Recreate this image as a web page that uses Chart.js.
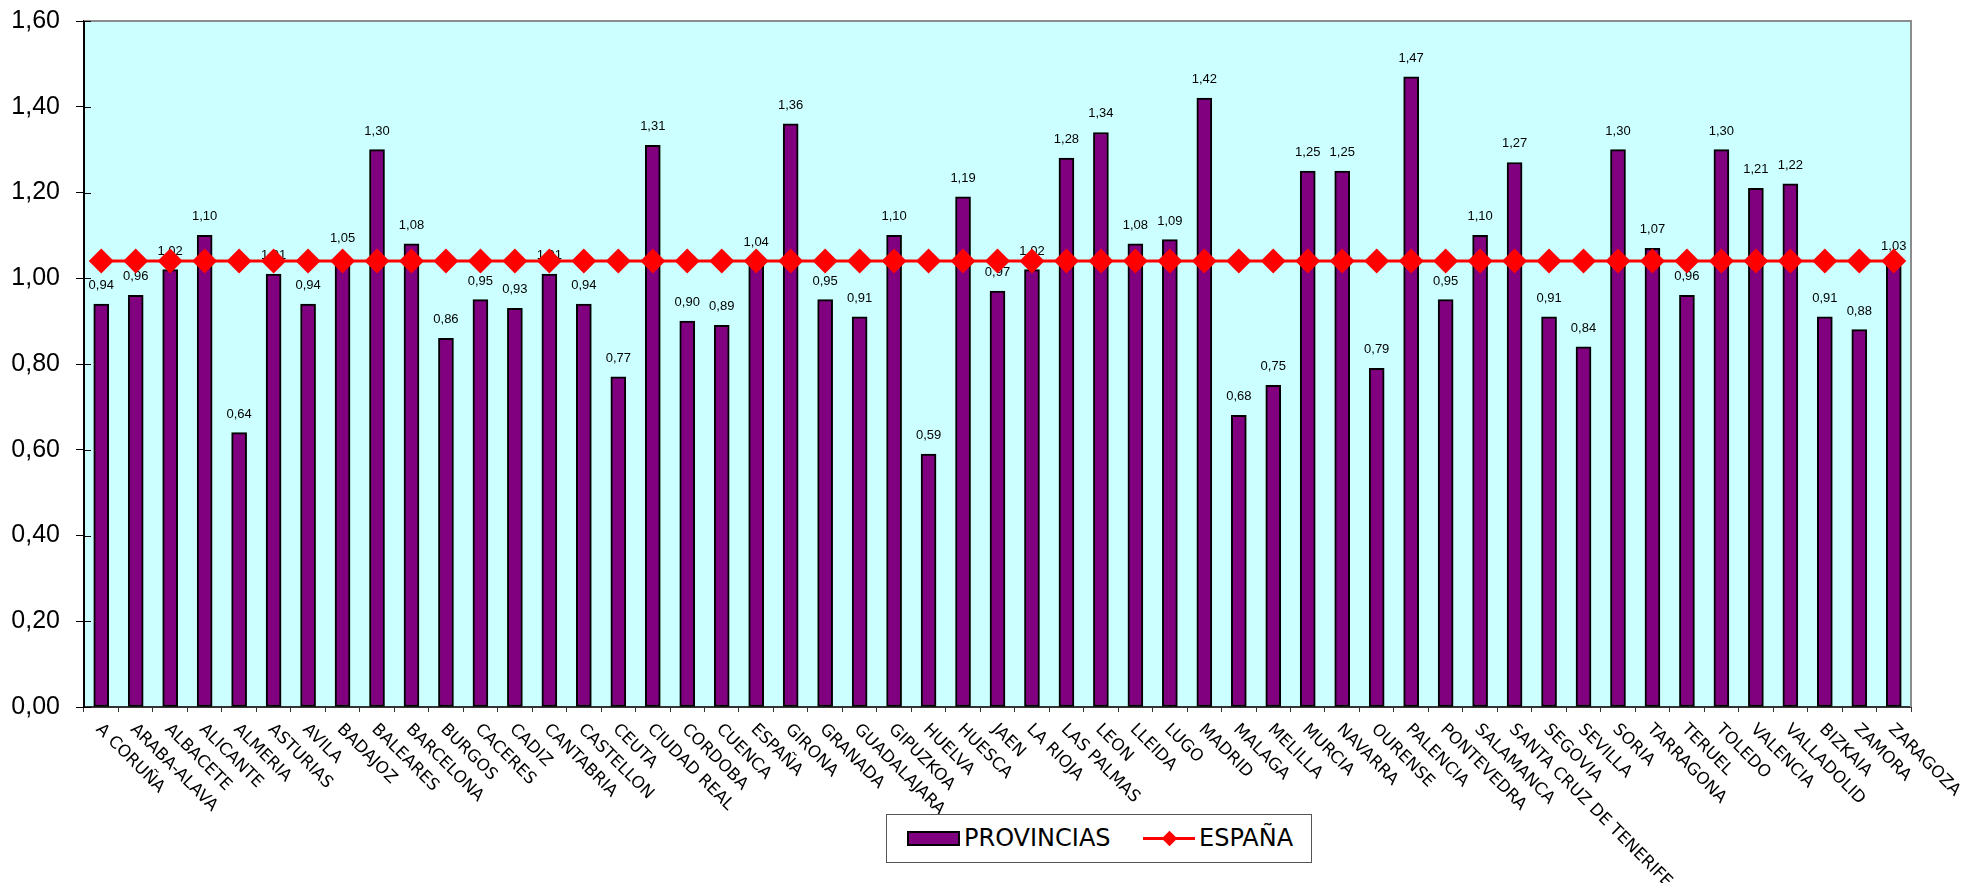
<!DOCTYPE html>
<html>
<head>
<meta charset="utf-8">
<title>Índice por provincias</title>
<script src="https://cdn.jsdelivr.net/npm/chart.js@4.4.1/dist/chart.umd.min.js"></script>
<style>
body{margin:0;background:#fff;}
#wrap{position:relative;width:1963px;height:883px;}
#legend{position:absolute;left:886px;top:814px;width:426px;height:49px;box-sizing:border-box;border:1px solid #555;background:#fff;font-family:"DejaVu Sans",Verdana,sans-serif;font-size:24px;line-height:24px;color:#000;}
#legend span{position:absolute;white-space:nowrap;}
.barSw{left:20px;top:16px;width:53px;height:15px;box-sizing:border-box;border:2px solid #000;background:#800080;}
.lineSw{left:256px;top:22px;width:52px;height:3px;background:#ff0000;}
.dotSw{left:277px;top:18px;width:11px;height:11px;background:#ff0000;transform:rotate(45deg);}
</style>
</head>
<body>
<div id="wrap">
<canvas id="grafico" width="1963" height="883"></canvas>
<div id="legend">
  <span class="barSw"></span><span style="left:77px;top:11px">PROVINCIAS</span>
  <span class="lineSw"></span><span class="dotSw"></span><span style="left:312px;top:11px">ESPAÑA</span>
</div>
</div>
<script>
const provincias=["A CORUÑA","ARABA-ALAVA","ALBACETE","ALICANTE","ALMERIA","ASTURIAS","AVILA","BADAJOZ","BALEARES","BARCELONA",
"BURGOS","CACERES","CADIZ","CANTABRIA","CASTELLON","CEUTA","CIUDAD REAL","CORDOBA","CUENCA","ESPAÑA",
"GIRONA","GRANADA","GUADALAJARA","GIPUZKOA","HUELVA","HUESCA","JAEN","LA RIOJA","LAS PALMAS","LEON",
"LLEIDA","LUGO","MADRID","MALAGA","MELILLA","MURCIA","NAVARRA","OURENSE","PALENCIA","PONTEVEDRA",
"SALAMANCA","SANTA CRUZ DE TENERIFE","SEGOVIA","SEVILLA","SORIA","TARRAGONA","TERUEL","TOLEDO","VALENCIA","VALLADOLID",
"BIZKAIA","ZAMORA","ZARAGOZA"];

const valores=[0.94,0.96,1.02,1.10,0.64,1.01,0.94,1.05,1.30,1.08,
0.86,0.95,0.93,1.01,0.94,0.77,1.31,0.90,0.89,1.04,
1.36,0.95,0.91,1.10,0.59,1.19,0.97,1.02,1.28,1.34,
1.08,1.09,1.42,0.68,0.75,1.25,1.25,0.79,1.47,0.95,
1.10,1.27,0.91,0.84,1.30,1.07,0.96,1.30,1.21,1.22,
0.91,0.88,1.03];

const mediaEspana=[1.04,1.04,1.04,1.04,1.04,1.04,1.04,1.04,1.04,1.04,
1.04,1.04,1.04,1.04,1.04,1.04,1.04,1.04,1.04,1.04,
1.04,1.04,1.04,1.04,1.04,1.04,1.04,1.04,1.04,1.04,
1.04,1.04,1.04,1.04,1.04,1.04,1.04,1.04,1.04,1.04,
1.04,1.04,1.04,1.04,1.04,1.04,1.04,1.04,1.04,1.04,
1.04,1.04,1.04];

const yTicks=[0,0.2,0.4,0.6,0.8,1.0,1.2,1.4,1.6];

function coma(v){
  return v.toFixed(2).replace('.',',');
}

// fondo celeste del area y marco gris arriba/derecha
const fondo={
  id:'fondo',
  beforeDraw(chart){
    const ctx=chart.ctx, a=chart.chartArea;
    ctx.save();
    ctx.fillStyle='#ccffff';
    ctx.fillRect(a.left,a.top,a.right-a.left,a.bottom-a.top);
    ctx.restore();
  },
  afterDraw(chart){
    const ctx=chart.ctx, a=chart.chartArea, y=chart.scales.y;
    ctx.save();
    ctx.strokeStyle='#8c8c8c';
    ctx.lineWidth=2;
    ctx.beginPath();
    ctx.moveTo(a.left,a.top);
    ctx.lineTo(a.right,a.top);
    ctx.lineTo(a.right,a.bottom);
    ctx.stroke();
    // parte interior de las marcas del eje y
    ctx.strokeStyle='#000';
    ctx.lineWidth=1;
    yTicks.forEach(function(v){
      const py=Math.round(y.getPixelForValue(v))+0.5;
      ctx.beginPath();
      ctx.moveTo(a.left,py);
      ctx.lineTo(a.left+7,py);
      ctx.stroke();
    });
    ctx.restore();
  }
};

// valor encima de cada barra (antes de pintar la linea)
const etiquetas={
  id:'etiquetas',
  afterDatasetDraw(chart,args){
    if(args.index!==1) return;
    const ctx=chart.ctx;
    ctx.save();
    ctx.font='13px "Liberation Sans", Arial, sans-serif';
    ctx.fillStyle='#000';
    ctx.textAlign='center';
    ctx.textBaseline='alphabetic';
    args.meta.data.forEach(function(bar,i){
      ctx.fillText(coma(valores[i]),bar.x,bar.y-15);
    });
    ctx.restore();
  }
};

// nombres de provincia girados 45 grados hacia abajo
const nombres={
  id:'nombres',
  afterDraw(chart){
    const ctx=chart.ctx, x=chart.scales.x, base=chart.chartArea.bottom;
    ctx.save();
    ctx.font='16.8px "DejaVu Sans", Verdana, sans-serif';
    ctx.fillStyle='#000';
    ctx.textAlign='left';
    ctx.textBaseline='alphabetic';
    provincias.forEach(function(p,i){
      ctx.save();
      ctx.translate(x.getPixelForValue(i)-6,base+23);
      ctx.rotate(Math.PI/4);
      ctx.fillText(p,0,0);
      ctx.restore();
    });
    ctx.restore();
  }
};

new Chart(document.getElementById('grafico').getContext('2d'),{
  data:{
    labels:provincias,
    datasets:[{
      type:'line',
      label:'ESPAÑA',
      data:mediaEspana,
      order:0,
      borderColor:'#ff0000',
      borderWidth:3,
      pointStyle:'rectRot',
      pointRadius:12.5,
      pointBackgroundColor:'#ff0000',
      pointBorderWidth:0,
      tension:0
    },{
      type:'bar',
      label:'PROVINCIAS',
      data:valores,
      order:1,
      backgroundColor:'#800080',
      borderColor:'#000',
      borderWidth:2,
      borderSkipped:false,
      barThickness:15
    }]
  },
  options:{
    responsive:false,
    devicePixelRatio:1,
    animation:false,
    layout:{padding:{top:21,right:52,left:0,bottom:0}},
    plugins:{legend:{display:false},tooltip:{enabled:false}},
    scales:{
      x:{
        offset:true,
        ticks:{display:false},
        grid:{offset:true,drawOnChartArea:false,tickLength:5,color:'#333',lineWidth:1},
        border:{color:'#333',width:2},
        afterFit(s){s.height=176;}
      },
      y:{
        min:0,max:1.6,
        afterBuildTicks(s){s.ticks=yTicks.map(v=>({value:v}));},
        ticks:{
          padding:16,
          color:'#000',
          font:{family:'"Liberation Sans", Arial, sans-serif',size:25},
          callback:v=>coma(v)
        },
        grid:{drawOnChartArea:false,tickLength:8,color:'#000'},
        border:{color:'#000',width:2},
        afterFit(s){s.width=84;s.paddingTop=0;s.paddingBottom=0;}
      }
    }
  },
  plugins:[fondo,etiquetas,nombres]
});
</script>
</body>
</html>
